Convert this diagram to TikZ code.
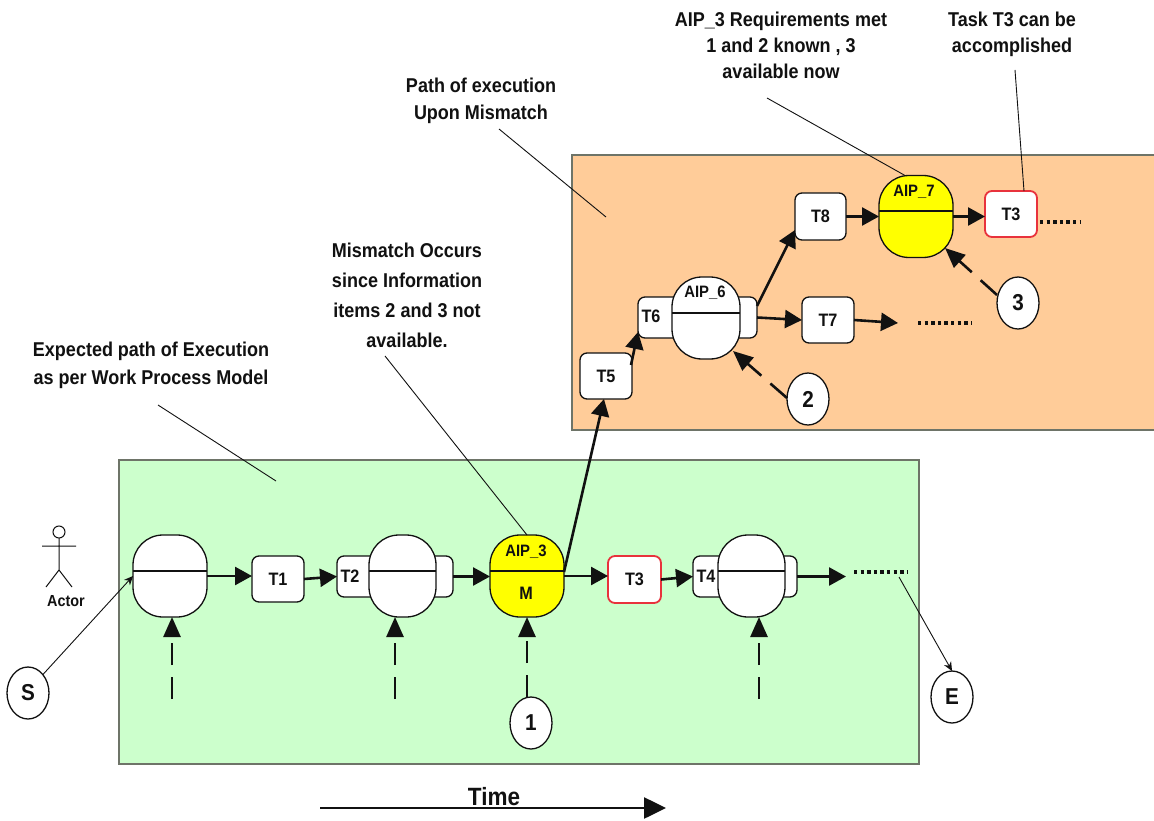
\documentclass[tikz,border=0pt]{standalone}
\usepackage{fontspec}
\setmainfont{Liberation Sans}[FakeStretch=0.9]
\usetikzlibrary{arrows.meta,shapes.geometric}
\definecolor{ink}{HTML}{111111}
\definecolor{zonegreen}{HTML}{CCFFCC}
\definecolor{zoneorange}{HTML}{FFCC99}
\definecolor{zoneedge}{HTML}{6E7468}
\definecolor{aipyellow}{HTML}{FFFF00}
\definecolor{taskred}{HTML}{E8323C}
\tikzset{
  zonebox/.style={draw=zoneedge,line width=1.5pt,inner sep=0pt,outer sep=0pt},
  taskbox/.style={draw=ink,fill=white,rounded corners=7pt,line width=1.3pt,inner sep=0pt,outer sep=0pt,font=\fontsize{18}{20}\selectfont\bfseries,text=ink},
  redbox/.style={taskbox,draw=taskred,line width=1.8pt},
  aip/.style={draw=ink,line width=1.3pt,rounded corners=30pt,minimum height=82pt,inner sep=0pt,outer sep=0pt},
  divider/.style={draw=ink,line width=1.3pt},
  marker/.style={ellipse,draw=ink,fill=white,line width=1.3pt,minimum width=42pt,minimum height=52pt,inner sep=0pt,outer sep=0pt,font=\fontsize{23}{25}\selectfont\bfseries,text=ink},
  flow/.style={draw=ink,line width=2.6pt,-{Triangle[length=17pt,width=18pt]}},
  info/.style={draw=ink,line width=2.6pt,dash pattern=on 22pt off 12pt,-{Triangle[length=20pt,width=17pt]}},
  leader/.style={draw=ink,line width=0.9pt},
  pointer/.style={draw=ink,line width=0.9pt,-{Stealth[length=9pt,width=8pt]}},
  dots/.style={draw=ink,line width=3.2pt,dash pattern=on 3.4pt off 3.2pt},
  note/.style={font=\fontsize{20}{27}\selectfont\bfseries,text=ink,align=center,inner sep=0pt},
  lbl/.style={font=\fontsize{18}{20}\selectfont\bfseries,text=ink,inner sep=0pt},
  smalllbl/.style={font=\fontsize{16.5}{18}\selectfont\bfseries,text=ink,inner sep=0pt},
}
\begin{document}
\begin{tikzpicture}[x=1pt,y=-1pt]
\useasboundingbox (0,0) rectangle (1154,821);
\fill[white] (0,0) rectangle (1154,821);
% zones
\node[zonebox,fill=zonegreen,minimum width=800pt,minimum height=304pt] (greenzone) at (519,612) {};
\node[zonebox,fill=zoneorange,minimum width=584pt,minimum height=275pt] (orangezone) at (864,292.5) {};
% leader anchors
\coordinate (expFrom) at (158,405);
\coordinate (expTo) at (276,481);
\coordinate (pathFrom) at (499,129);
\coordinate (pathTo) at (606,217);
\coordinate (misFrom) at (385,356);
\coordinate (reqFrom) at (767,98);
\coordinate (taskFrom) at (1015,70);
% task boxes
\node[taskbox,minimum width=52pt,minimum height=46pt] (t1) at (278,579) {T1};
\node[taskbox,minimum width=116pt,minimum height=41pt] (t2) at (395,576.5) {};
\node[redbox,minimum width=53pt,minimum height=47pt] (t3) at (634.5,579.5) {T3};
\node[taskbox,minimum width=104pt,minimum height=41pt] (t4) at (745,576.5) {};
\node[taskbox,minimum width=52pt,minimum height=46pt] (t5) at (606,376) {T5};
\node[taskbox,minimum width=119pt,minimum height=41pt] (t6) at (697.5,317.5) {};
\node[taskbox,minimum width=52pt,minimum height=46pt] (t7) at (828,320) {T7};
\node[taskbox,minimum width=51pt,minimum height=47pt] (t8) at (820.5,216.5) {T8};
\node[redbox,minimum width=52pt,minimum height=46pt] (t3b) at (1011,214) {T3};
% AIP capsules
\node[aip,fill=white,minimum width=74pt] (aipa) at (170,576) {};
\node[aip,fill=white,minimum width=67pt] (aipb) at (402.5,576) {};
\node[aip,fill=aipyellow,minimum width=74pt] (aipc) at (527,576) {};
\node[aip,fill=white,minimum width=67pt] (aipd) at (751.5,576) {};
\node[aip,fill=white,minimum width=68pt] (aipe) at (706,318) {};
\node[aip,fill=aipyellow,minimum width=74pt] (aipf) at (916,216.5) {};
\foreach \n in {aipa,aipb,aipc,aipd}{\draw[divider] ([yshift=5pt]\n.west) -- ([yshift=5pt]\n.east);}
\draw[divider] ([yshift=5pt]aipe.west) -- ([yshift=5pt]aipe.east);
\draw[divider] ([yshift=5.5pt]aipf.west) -- ([yshift=5.5pt]aipf.east);
% labels inside
\node[lbl] (t2l) at (350,576) {T2};
\node[lbl] (t4l) at (706,576) {T4};
\node[lbl] (t6l) at (651,316) {T6};
\node[smalllbl] (aipcl) at (526,552) {AIP\_3};
\node[lbl] (aipcm) at (526,593) {M};
\node[smalllbl] (aipel) at (705,293) {AIP\_6};
\node[smalllbl] (aipfl) at (914,192) {AIP\_7};
% markers
\node[marker] (s) at (28,693) {S};
\node[marker] (e) at (952,697) {E};
\node[marker] (one) at (531,723) {1};
\node[marker] (two) at (808,399) {2};
\node[marker] (three) at (1018,303) {3};
% flow connectors
\draw[flow] (aipa.east) -- (t1.west |- aipa.east);
\draw[flow] (t1.east) -- (t2.west);
\draw[flow] (t2.east) -- (aipc.west |- t2.east);
\draw[flow] (aipc.east) -- (t3.west |- aipc.east);
\draw[flow] (t3.east) -- (t4.west);
\coordinate (afterT4) at (846,576.5);
\draw[flow] (t4.east) -- (afterT4);
\coordinate (greenDotsA) at (854,572);
\coordinate (greenDotsB) at (907,572);
\draw[dots] (greenDotsA) -- (greenDotsB);
\draw[flow] ([yshift=4pt]aipc.east) -- ([xshift=-2pt]t5.south);
\draw[flow] ([xshift=-1pt,yshift=-12pt]t5.north east) -- ([yshift=6pt]t6.south west);
\coordinate (t6fork) at (757,306);
\draw[flow] (t6fork) -- ([yshift=10pt]t8.south west);
\draw[flow] (t6.east) -- (t7.west);
\coordinate (afterT7) at (898,323);
\draw[flow] (t7.east) -- (afterT7);
\draw[dots] (918,323) coordinate (orangeDotsA) -- (971,323) coordinate (orangeDotsB);
\draw[flow] (t8.east) -- (aipf.west);
\draw[flow] (aipf.east) -- (t3b.west |- aipf.east);
\draw[dots] (1040,222) coordinate (tailDotsA) -- (1080,222) coordinate (tailDotsB);
% information arrows
\coordinate (infoA) at (172,699);
\coordinate (infoB) at (395,699);
\coordinate (infoD) at (759,699);
\draw[info] (infoA) -- (aipa.south -| infoA);
\draw[info] (infoB) -- (aipb.south -| infoB);
\draw[info] (infoD) -- (aipd.south -| infoD);
\draw[info] (one.north -| aipc.south) -- (aipc.south);
\coordinate (twoTip) at (733,351);
\coordinate (threeTip) at (945,248);
\draw[info] (two.west) ++(0,-1) -- (twoTip);
\draw[info] (three.west) ++(0,-8) -- (threeTip);
% pointers
\draw[pointer] (s.north east) -- (aipa.west);
\coordinate (dotsEnd) at (899,577);
\draw[pointer] (dotsEnd) -- (e.north);
% leaders
\draw[leader] (expFrom) -- (expTo);
\draw[leader] (pathFrom) -- (pathTo);
\draw[leader] (misFrom) -- (aipc.north);
\draw[leader] (reqFrom) -- ([xshift=-11pt]aipf.north);
\draw[leader] (taskFrom) -- ([xshift=13pt]t3b.north);
% notes
\node[note,font=\fontsize{20}{28}\selectfont\bfseries] (nexp) at (151,365) {Expected path of Execution\\as per Work Process Model};
\node[note] (npath) at (481,101) {Path of execution\\Upon Mismatch};
\node[note,font=\fontsize{20}{26}\selectfont\bfseries] (nreq) at (781,45) {AIP\_3 Requirements met\\1 and 2 known , 3\\available now};
\node[note,font=\fontsize{20}{26}\selectfont\bfseries] (ntask) at (1012,34) {Task T3 can be\\accomplished};
\node[note,font=\fontsize{20}{30}\selectfont\bfseries] (nmis) at (407,295) {Mismatch Occurs\\since Information\\items 2 and 3 not\\available.};
% actor
\node[circle,draw=ink,line width=1pt,minimum size=12pt,inner sep=0pt,outer sep=0pt] (head) at (59,532) {};
\coordinate (hip) at (59,570);
\coordinate (armL) at (42,546);
\coordinate (armR) at (76,546);
\coordinate (legL) at (46,587);
\coordinate (legR) at (72,587);
\draw[ink,line width=1pt] (head.south) -- (hip) (armL) -- (armR) (legL) -- (hip) -- (legR);
\node[font=\fontsize{16}{18}\selectfont\bfseries,text=ink,inner sep=0pt] (actor) at (66,601) {Actor};
% time
\coordinate (timeA) at (320,808);
\coordinate (timeB) at (666,808);
\draw[draw=ink,line width=2.6pt,-{Triangle[length=22pt,width=21pt]}] (timeA) -- (timeB);
\node[font=\fontsize{25}{27}\selectfont\bfseries,text=ink,inner sep=0pt] (time) at (494,797) {Time};
\end{tikzpicture}
\end{document}
